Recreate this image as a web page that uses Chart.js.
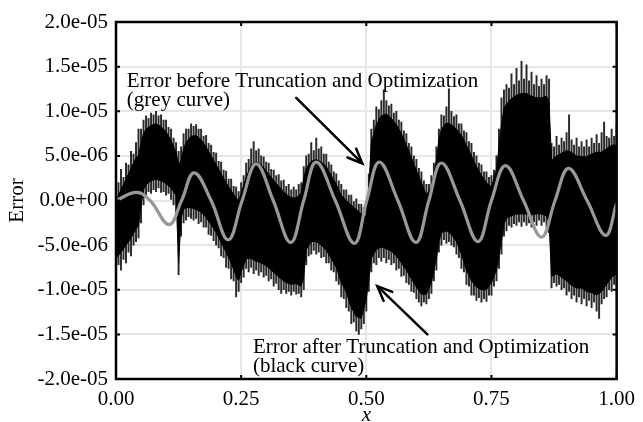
<!DOCTYPE html>
<html>
<head>
<meta charset="utf-8">
<script src="https://cdn.jsdelivr.net/npm/chart.js@4/dist/chart.umd.min.js"></script>
<style>
  html, body { margin: 0; padding: 0; background: #fff; }
  #wrap { width: 643px; height: 422px; }
</style>
</head>
<body>
<div id="wrap"><canvas id="c" width="643" height="422"></canvas></div>
<script>
// All error values are in units of 1e-6
// Solid core of the black (after) curve: upper / lower envelope
const bandX  = [0.00,0.01,0.02,0.03,0.04,0.045,0.05,0.055,0.06,0.07,0.08,0.09,0.10,0.11,0.12,0.125,0.13,0.135,0.14,0.15,0.16,0.17,0.18,0.19,0.20,0.21,0.22,0.23,0.24,0.245,0.25,0.26,0.27,0.28,0.29,0.30,0.31,0.32,0.33,0.34,0.35,0.36,0.37,0.375,0.38,0.39,0.40,0.41,0.42,0.43,0.44,0.45,0.46,0.47,0.48,0.49,0.50,0.505,0.51,0.52,0.53,0.54,0.55,0.56,0.57,0.58,0.59,0.60,0.61,0.62,0.63,0.64,0.645,0.65,0.66,0.67,0.68,0.69,0.70,0.71,0.72,0.73,0.74,0.75,0.76,0.77,0.775,0.78,0.79,0.80,0.81,0.82,0.83,0.84,0.85,0.86,0.865,0.87,0.88,0.89,0.90,0.91,0.92,0.93,0.94,0.95,0.96,0.97,0.98,0.99,1.00];
const bandHi = [0.0,1.2,2.4,3.6,4.8,5.0,6.5,7.5,8.0,8.4,8.6,8.3,7.7,6.7,5.4,4.0,4.5,5.8,6.5,7.2,7.3,6.8,6.0,5.0,4.0,3.0,2.0,1.1,0.3,0.0,0.8,2.6,4.0,4.3,4.0,3.3,2.6,1.9,1.3,0.7,0.3,0.3,0.8,2.5,3.6,4.4,4.6,4.3,3.8,2.8,1.8,0.6,0.0,-0.5,-1.0,-1.5,-1.8,1.5,6.5,8.5,9.5,9.7,9.2,8.5,7.5,6.2,4.8,3.4,2.0,0.6,1.5,4.5,6.8,8.0,8.7,8.5,8.0,7.3,6.2,5.0,3.8,2.8,2.0,1.5,3.5,8.5,10.3,10.8,11.4,11.8,12.0,12.0,11.7,11.5,11.5,11.7,11.0,4.5,5.0,5.3,5.6,5.4,5.0,4.9,4.9,5.2,5.4,5.4,5.8,6.2,6.2];
const bandLo = [-6.5,-5.8,-5.0,-4.2,-3.2,-2.8,-0.5,1.2,1.8,2.2,2.4,2.2,1.9,1.4,0.6,-7.0,-2.0,-1.0,-0.8,-0.8,-1.0,-1.3,-1.9,-2.7,-3.6,-4.7,-5.8,-7.0,-8.5,-9.0,-8.0,-6.5,-6.5,-6.8,-7.0,-7.3,-7.8,-8.3,-8.8,-9.2,-9.4,-9.3,-9.6,-8.5,-5.5,-4.6,-4.6,-5.0,-5.6,-6.5,-7.5,-9.2,-10.3,-12.0,-13.0,-13.2,-11.0,-8.8,-6.5,-5.5,-5.2,-5.4,-5.7,-6.2,-7.0,-7.8,-8.8,-9.7,-10.5,-10.5,-9.2,-6.5,-4.6,-3.6,-3.4,-3.8,-4.6,-6.0,-7.8,-9.0,-9.7,-10.0,-10.0,-9.2,-7.8,-4.5,-2.6,-2.0,-1.7,-1.5,-1.5,-1.5,-1.6,-1.5,-1.5,-1.7,-2.5,-8.5,-8.2,-8.6,-9.0,-9.5,-9.8,-9.8,-10.2,-10.3,-10.6,-10.2,-9.4,-8.6,-8.2];

// Spike extremes of the black curve (lowest / highest excursion at each position)
const spikeX  = [0.000,0.005,0.010,0.015,0.020,0.025,0.030,0.035,0.040,0.045,0.050,0.055,0.060,0.065,0.070,0.075,0.080,0.085,0.090,0.095,0.100,0.105,0.110,0.115,0.120,0.125,0.130,0.135,0.140,0.145,0.150,0.155,0.160,0.165,0.170,0.175,0.180,0.185,0.190,0.195,0.200,0.205,0.210,0.215,0.220,0.225,0.230,0.235,0.240,0.245,0.250,0.255,0.260,0.265,0.270,0.275,0.280,0.285,0.290,0.295,0.300,0.305,0.310,0.315,0.320,0.325,0.330,0.335,0.340,0.345,0.350,0.355,0.360,0.365,0.370,0.375,0.380,0.385,0.390,0.395,0.400,0.405,0.410,0.415,0.420,0.425,0.430,0.435,0.440,0.445,0.450,0.455,0.460,0.465,0.470,0.475,0.480,0.485,0.490,0.495,0.500,0.505,0.510,0.515,0.520,0.525,0.530,0.535,0.540,0.545,0.550,0.555,0.560,0.565,0.570,0.575,0.580,0.585,0.590,0.595,0.600,0.605,0.610,0.615,0.620,0.625,0.630,0.635,0.640,0.645,0.650,0.655,0.660,0.665,0.670,0.675,0.680,0.685,0.690,0.695,0.700,0.705,0.710,0.715,0.720,0.725,0.730,0.735,0.740,0.745,0.750,0.755,0.760,0.765,0.770,0.775,0.780,0.785,0.790,0.795,0.800,0.805,0.810,0.815,0.820,0.825,0.830,0.835,0.840,0.845,0.850,0.855,0.860,0.865,0.870,0.875,0.880,0.885,0.890,0.895,0.900,0.905,0.910,0.915,0.920,0.925,0.930,0.935,0.940,0.945,0.950,0.955,0.960,0.965,0.970,0.975,0.980,0.985,0.990,0.995,1.000];
const spikeHi = [1.5,2.0,3.5,2.6,4.2,4.0,5.5,5.2,6.5,8.0,8.0,9.0,9.5,9.2,9.8,9.6,10.0,9.5,9.6,9.0,9.0,8.2,8.0,7.0,6.5,5.5,6.0,7.5,8.0,8.0,8.6,8.3,8.5,8.0,8.0,7.2,7.3,6.4,6.2,5.4,5.3,4.4,4.3,3.4,3.3,2.4,2.4,1.6,1.5,1.0,2.0,2.8,4.2,4.6,5.8,6.6,5.6,5.8,5.0,4.9,4.3,4.2,3.5,3.4,2.8,2.9,2.2,2.3,1.6,1.8,1.2,1.5,1.2,1.8,2.0,3.8,5.0,5.2,6.5,5.6,7.0,5.8,6.0,5.2,5.2,4.3,4.0,3.2,3.0,2.2,1.8,1.2,1.2,0.6,0.6,0.0,0.2,-0.4,-0.4,-0.8,-0.6,3.0,8.0,9.0,10.5,10.2,11.2,12.4,11.2,10.6,10.8,9.8,10.0,9.0,8.8,7.8,7.5,6.4,6.0,5.0,4.6,3.6,3.2,2.2,1.8,1.8,2.8,4.2,6.0,8.0,9.6,9.5,10.5,12.5,10.0,9.4,9.6,8.6,8.6,7.8,7.6,6.6,6.4,5.4,5.0,4.2,4.0,3.2,3.2,2.6,2.8,3.4,5.0,8.0,11.5,12.4,13.0,12.6,14.2,13.0,14.8,13.4,15.6,13.6,15.2,13.4,14.4,13.0,14.0,12.8,13.6,13.0,14.0,13.6,6.4,6.0,7.2,6.2,7.0,6.6,7.6,9.6,6.8,6.2,7.0,6.0,6.6,6.0,6.8,6.0,7.0,6.4,7.4,6.4,7.6,8.8,7.2,7.0,8.0,7.2,8.4];
const spikeLo = [-8.0,-7.2,-7.8,-6.6,-7.0,-5.8,-6.2,-5.0,-4.6,-4.2,-2.5,-0.5,0.5,1.0,0.8,1.2,1.0,1.4,0.9,1.0,0.6,0.8,0.0,-0.5,-1.5,-8.3,-4.0,-2.5,-2.2,-1.8,-2.0,-2.2,-2.0,-2.6,-2.4,-3.0,-3.0,-3.8,-3.9,-4.5,-5.0,-5.3,-6.2,-6.4,-7.5,-7.6,-8.8,-9.0,-10.8,-10.2,-9.2,-8.6,-7.6,-8.0,-7.5,-8.2,-7.8,-8.4,-8.0,-8.6,-8.4,-9.0,-8.8,-9.6,-9.3,-10.0,-10.4,-10.0,-10.4,-10.2,-10.6,-10.2,-10.5,-10.4,-10.8,-10.0,-7.2,-6.2,-6.0,-5.6,-6.0,-5.8,-6.4,-6.3,-7.0,-7.0,-7.8,-8.0,-9.0,-9.4,-10.8,-11.0,-12.0,-12.4,-13.8,-13.6,-14.6,-15.0,-14.4,-13.8,-12.4,-10.2,-8.0,-7.0,-7.2,-6.4,-6.8,-6.4,-7.0,-6.6,-7.2,-7.0,-7.8,-7.6,-8.5,-8.4,-9.2,-9.4,-10.2,-10.3,-11.0,-11.4,-11.8,-11.4,-11.6,-11.0,-10.4,-9.0,-7.8,-5.8,-5.0,-4.4,-4.8,-4.6,-5.0,-5.2,-6.0,-6.4,-7.6,-8.0,-9.4,-9.6,-10.6,-10.6,-11.2,-10.9,-11.4,-11.0,-11.3,-10.6,-10.6,-9.6,-9.0,-7.6,-6.0,-4.0,-3.4,-2.8,-3.0,-2.6,-2.8,-2.4,-2.9,-2.4,-2.8,-2.5,-3.0,-2.4,-2.8,-2.2,-2.8,-2.4,-3.0,-3.6,-9.8,-9.2,-9.6,-9.4,-10.0,-9.8,-10.6,-10.2,-11.0,-10.6,-11.4,-10.8,-11.6,-11.0,-11.8,-11.2,-12.0,-11.4,-12.4,-13.2,-11.6,-11.0,-10.8,-10.0,-10.2,-9.4,-9.6];

// Grey (before) curve: extrema and zero crossings
const greyX = [0.0,0.041,0.068,0.106,0.131,0.156,0.19,0.224,0.252,0.28,0.314,0.349,0.375,0.40,0.438,0.476,0.501,0.526,0.563,0.599,0.625,0.650,0.687,0.723,0.75,0.778,0.814,0.850,0.877,0.904,0.941,0.978,1.0];
const greyY = [0.0,0.9,0.0,-2.7,0.0,3.1,0.0,-4.4,0.0,4.1,0.0,-4.7,0.0,4.3,0.0,-4.8,0.0,4.3,0.0,-4.7,0.0,4.2,0.0,-4.6,0.0,3.9,0.0,-4.1,0.0,3.6,0.0,-3.9,-0.3];

const xTickValues = [0, 0.25, 0.5, 0.75, 1.0];
const yTickValues = [-20, -15, -10, -5, 0, 5, 10, 15, 20];

const labelBefore = ["Error before Truncation and Optimization", "(grey curve)"];
const labelAfter  = ["Error after Truncation and Optimization", "(black curve)"];

const SERIF = '"Liberation Serif", "Times New Roman", serif';
const FS = 21;

function fmtTick(v) {
  let s = (Math.abs(v) < 1e-9 ? 0 : v * 1e-6).toExponential(1);
  const m = s.match(/^(-?[\d.]+)e([+-])(\d+)$/);
  return m[1] + 'e' + m[2] + m[3].padStart(2, '0');
}

const pts = (xs, ys) => xs.map((x, i) => ({x: x, y: ys[i]}));
const spans = (xs, lo, hi) => xs.map((x, i) => ({x: x, y: [lo[i], hi[i]]}));

const frame = {
  id: 'frame',
  afterDatasetsDraw(chart) {
    const {ctx, chartArea: a, scales} = chart;
    ctx.save();
    ctx.strokeStyle = '#000';
    ctx.lineWidth = 2.5;
    ctx.strokeRect(a.left, a.top, a.right - a.left, a.bottom - a.top);
    ctx.lineWidth = 2;
    const tl = 4;
    xTickValues.forEach(v => {
      const px = scales.x.getPixelForValue(v);
      ctx.beginPath();
      ctx.moveTo(px, a.bottom); ctx.lineTo(px, a.bottom - tl);
      ctx.moveTo(px, a.top); ctx.lineTo(px, a.top + tl);
      ctx.stroke();
    });
    yTickValues.forEach(v => {
      const py = scales.y.getPixelForValue(v);
      ctx.beginPath();
      ctx.moveTo(a.left, py); ctx.lineTo(a.left + tl, py);
      ctx.moveTo(a.right, py); ctx.lineTo(a.right - tl, py);
      ctx.stroke();
    });
    const X = v => scales.x.getPixelForValue(v);
    const Y = v => scales.y.getPixelForValue(v);
    ctx.fillStyle = '#000';
    ctx.font = FS + 'px ' + SERIF;
    ctx.textBaseline = 'alphabetic';
    ctx.textAlign = 'left';
    ctx.fillText(labelBefore[0], X(0.0217), Y(12.72));
    ctx.fillText(labelBefore[1], X(0.0217), Y(10.64));
    ctx.fillText(labelAfter[0], X(0.2736), Y(-17.09));
    ctx.fillText(labelAfter[1], X(0.2736), Y(-19.22));
    function arrow(x1, y1, x2, y2) {
      const ax = X(x1), ay = Y(y1), bx = X(x2), by = Y(y2);
      ctx.lineWidth = 2.5;
      ctx.lineCap = 'round';
      ctx.beginPath(); ctx.moveTo(ax, ay); ctx.lineTo(bx, by); ctx.stroke();
      const ang = Math.atan2(by - ay, bx - ax);
      const hl = 16, ha = 0.4;
      ctx.beginPath();
      ctx.moveTo(bx - hl * Math.cos(ang - ha), by - hl * Math.sin(ang - ha));
      ctx.lineTo(bx, by);
      ctx.lineTo(bx - hl * Math.cos(ang + ha), by - hl * Math.sin(ang + ha));
      ctx.stroke();
    }
    arrow(0.360, 11.5, 0.492, 4.15);
    arrow(0.622, -15.0, 0.522, -9.6);
    ctx.restore();
  }
};

new Chart(document.getElementById('c'), {
  type: 'line',
  data: {
    datasets: [
      { label: 'grey', data: pts(greyX, greyY), borderColor: '#999999', borderWidth: 3.2,
        pointRadius: 0, tension: 0.4, fill: false, order: 0 },
      { label: 'lo', data: pts(bandX, bandLo), borderColor: '#000', borderWidth: 1,
        pointRadius: 0, tension: 0, fill: false, order: 2 },
      { label: 'hi', data: pts(bandX, bandHi), borderColor: '#000', borderWidth: 1,
        pointRadius: 0, tension: 0, fill: '-1', backgroundColor: '#000', order: 1 },
      { type: 'bar', label: 'spikes', data: spans(spikeX, spikeLo, spikeHi),
        backgroundColor: '#2a2a2a', borderWidth: 0, barThickness: 1.3, grouped: false, order: 3 }
    ]
  },
  options: {
    responsive: false,
    animation: false,
    devicePixelRatio: 1,
    layout: { padding: { left: 0, right: 19, top: 22, bottom: 0 } },
    plugins: { legend: { display: false }, tooltip: { enabled: false } },
    scales: {
      x: {
        type: 'linear', min: 0, max: 1, offset: false,
        afterFit: s => { s.height = 43; },
        afterBuildTicks: s => { s.ticks = xTickValues.map(v => ({value: v})); },
        grid: { color: '#e6e6e6', lineWidth: 2, drawTicks: false, offset: false },
        border: { display: false },
        ticks: { color: '#000', padding: 8, font: { family: SERIF, size: FS },
                 callback: v => Number(v).toFixed(2), maxRotation: 0 },
        title: { display: true, text: 'x', color: '#000', padding: { top: 0, bottom: -6 },
                 font: { family: SERIF, size: FS, style: 'italic' } }
      },
      y: {
        type: 'linear', min: -20, max: 20,
        afterFit: s => { s.width = 116; },
        afterBuildTicks: s => { s.ticks = yTickValues.map(v => ({value: v})); },
        grid: { color: '#e6e6e6', lineWidth: 2, drawTicks: false },
        border: { display: false },
        ticks: { color: '#000', padding: 8, font: { family: SERIF, size: FS },
                 callback: v => fmtTick(v) },
        title: { display: true, text: 'Error', color: '#000', padding: { top: 5, bottom: 0 },
                 font: { family: SERIF, size: FS } }
      }
    }
  },
  plugins: [frame]
});
</script>
</body>
</html>
